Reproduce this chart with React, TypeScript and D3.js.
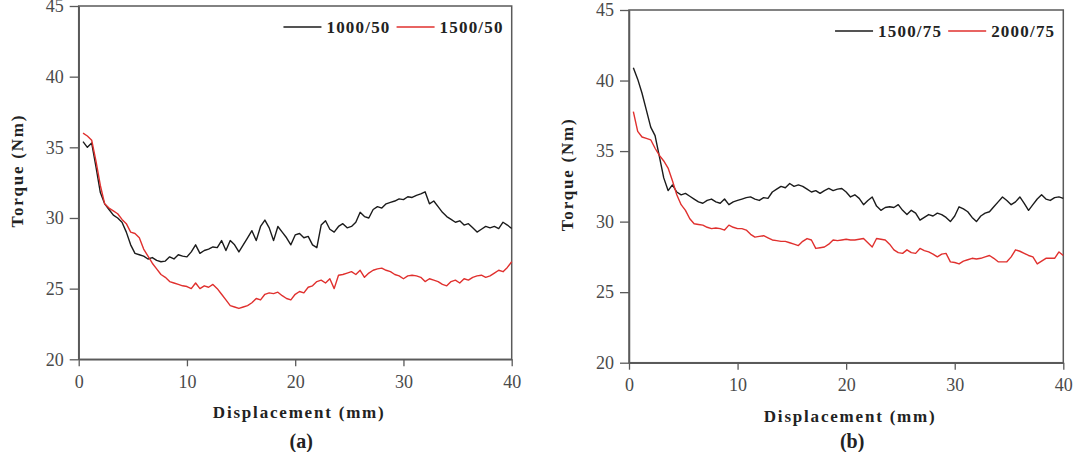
import React, { useEffect, useRef } from "react";
import * as d3 from "d3";

// sampling positions along the stroke (mm)
const displacement = [
  0.4, 0.8, 1.2, 1.6, 2.0, 2.4, 2.8, 3.2, 3.6, 4.0, 4.4, 4.8, 5.2, 5.6, 6.0, 6.4, 6.8, 7.2, 7.6, 8.0,
  8.4, 8.8, 9.2, 9.6, 10.0, 10.4, 10.8, 11.2, 11.6, 12.0, 12.4, 12.8, 13.2, 13.6, 14.0, 14.4, 14.8, 15.2, 15.6, 16.0,
  16.4, 16.8, 17.2, 17.6, 18.0, 18.4, 18.8, 19.2, 19.6, 20.0, 20.4, 20.8, 21.2, 21.6, 22.0, 22.4, 22.8, 23.2, 23.6, 24.0,
  24.4, 24.8, 25.2, 25.6, 26.0, 26.4, 26.8, 27.2, 27.6, 28.0, 28.4, 28.8, 29.2, 29.6, 30.0, 30.4, 30.8, 31.2, 31.6, 32.0,
  32.4, 32.8, 33.2, 33.6, 34.0, 34.4, 34.8, 35.2, 35.6, 36.0, 36.4, 36.8, 37.2, 37.6, 38.0, 38.4, 38.8, 39.2, 39.6, 40.0,
];

// torque (Nm), panel (a)
const torque1000_50 = [
  35.4, 35.0, 35.3, 33.6, 31.8, 31.0, 30.6, 30.2, 30.0, 29.7, 29.0, 28.1, 27.5, 27.4, 27.3, 27.1, 27.2, 27.0, 26.9, 26.95,
  27.25, 27.1, 27.4, 27.3, 27.25, 27.6, 28.1, 27.5, 27.7, 27.8, 27.95, 27.9, 28.4, 27.7, 28.4, 28.1, 27.6, 28.1, 28.6, 29.1,
  28.4, 29.4, 29.85, 29.3, 28.4, 29.4, 29.0, 28.6, 28.1, 28.8, 28.9, 28.6, 28.7, 28.1, 27.9, 29.5, 29.8, 29.2, 29.0, 29.4,
  29.6, 29.3, 29.4, 29.7, 30.4, 30.1, 30.0, 30.6, 30.8, 30.7, 31.0, 31.1, 31.2, 31.35, 31.3, 31.5, 31.45, 31.6, 31.7, 31.85,
  31.0, 31.2, 30.8, 30.4, 30.1, 29.9, 29.7, 29.8, 29.5, 29.6, 29.3, 29.0, 29.2, 29.4, 29.3, 29.4, 29.25, 29.7, 29.5, 29.25,
];
const torque1500_50 = [
  36.0, 35.8, 35.5, 34.0, 32.3, 31.0, 30.7, 30.5, 30.3, 29.9, 29.6, 29.0, 28.9, 28.6, 27.8, 27.3, 26.8, 26.4, 26.0, 25.8,
  25.5, 25.4, 25.3, 25.2, 25.15, 25.0, 25.4, 25.0, 25.2, 25.1, 25.3, 25.0, 24.6, 24.2, 23.8, 23.7, 23.6, 23.7, 23.8, 24.0,
  24.3, 24.2, 24.6, 24.7, 24.65, 24.75, 24.5, 24.3, 24.2, 24.6, 24.8, 24.7, 25.1, 25.2, 25.5, 25.6, 25.4, 25.7, 25.0, 25.95,
  26.0, 26.1, 26.2, 26.0, 26.3, 25.8, 26.1, 26.3, 26.4, 26.45, 26.3, 26.2, 26.0, 25.9, 25.7, 25.9, 25.95, 25.9, 25.8, 25.5,
  25.7, 25.6, 25.5, 25.3, 25.2, 25.5, 25.6, 25.4, 25.7, 25.6, 25.8, 25.9, 25.95, 25.8, 25.9, 26.1, 26.3, 26.2, 26.5, 26.9,
];

// torque (Nm), panel (b)
const torque1500_75 = [
  40.9, 40.1, 39.1, 37.9, 36.7, 36.1, 34.6, 33.1, 32.2, 32.6, 32.1, 31.9, 32.0, 31.8, 31.6, 31.4, 31.3, 31.5, 31.6, 31.4,
  31.3, 31.6, 31.2, 31.4, 31.5, 31.6, 31.7, 31.75, 31.6, 31.5, 31.7, 31.65, 32.1, 32.3, 32.5, 32.4, 32.7, 32.5, 32.6, 32.5,
  32.3, 32.1, 32.2, 32.0, 32.2, 32.35, 32.2, 32.3, 32.35, 32.1, 31.75, 31.9, 31.65, 31.2, 31.5, 31.75, 31.1, 30.8, 31.0, 31.05,
  31.0, 31.2, 30.8, 30.5, 30.8, 30.6, 30.1, 30.3, 30.5, 30.4, 30.6, 30.5, 30.3, 30.0, 30.4, 31.05, 30.9, 30.7, 30.3, 30.0,
  30.4, 30.6, 30.7, 31.05, 31.4, 31.75, 31.5, 31.2, 31.4, 31.75, 31.3, 30.8, 31.2, 31.6, 31.9, 31.6, 31.5, 31.7, 31.75, 31.65,
];
const torque2000_75 = [
  37.8, 36.4, 36.0, 35.9, 35.8, 35.2, 34.7, 34.3, 33.8, 32.9, 31.9, 31.2, 30.8, 30.2, 29.85, 29.8, 29.75, 29.6, 29.5, 29.55,
  29.5, 29.4, 29.75, 29.6, 29.5, 29.5, 29.4, 29.1, 28.9, 28.95, 29.0, 28.85, 28.7, 28.65, 28.6, 28.6, 28.5, 28.4, 28.3, 28.6,
  28.8, 28.7, 28.1, 28.15, 28.2, 28.4, 28.7, 28.65, 28.7, 28.75, 28.7, 28.7, 28.75, 28.8, 28.5, 28.2, 28.8, 28.75, 28.7, 28.4,
  28.0, 27.8, 27.75, 28.0, 27.8, 27.75, 28.1, 27.95, 27.85, 27.7, 27.5, 27.7, 27.75, 27.15, 27.1, 27.0, 27.2, 27.3, 27.4, 27.35,
  27.4, 27.5, 27.6, 27.4, 27.15, 27.15, 27.15, 27.5, 28.0, 27.9, 27.75, 27.6, 27.5, 27.0, 27.2, 27.4, 27.4, 27.4, 27.85, 27.6,
];

const xTicks = [0, 10, 20, 30, 40];
const yTicks = [20, 25, 30, 35, 40, 45];
const labelsA = ["1000/50", "1500/50"];
const labelsB = ["1500/75", "2000/75"];

const BLACK = "#1b1b1b";
const RED = "#e0302e";
const AXIS = "#5a5a5a";
const SERIF = "Liberation Serif";

type Panel = {
  left: number;
  right: number;
  top: number;
  bottom: number;
  series: number[][];
  labels: string[];
  caption: string;
};

const panels: Panel[] = [
  { left: 78.7, right: 511.7, top: 6, bottom: 359.3, series: [torque1000_50, torque1500_50], labels: labelsA, caption: "(a)" },
  { left: 629, right: 1063.3, top: 10, bottom: 362.7, series: [torque1500_75, torque2000_75], labels: labelsB, caption: "(b)" },
];

const drawPanel = (svg: d3.Selection<SVGSVGElement, unknown, null, undefined>, p: Panel) => {
  const x = d3.scaleLinear().domain([0, 40]).range([p.left, p.right]);
  const y = d3.scaleLinear().domain([20, 45]).range([p.bottom, p.top]);
  const g = svg.append("g");

  // frame around the plot area
  g.append("rect")
    .attr("x", p.left)
    .attr("y", p.top)
    .attr("width", p.right - p.left)
    .attr("height", p.bottom - p.top)
    .attr("fill", "none")
    .attr("stroke", AXIS)
    .attr("stroke-width", 1.5);

  // bottom axis
  const xAxis = g
    .append("g")
    .attr("transform", `translate(0,${p.bottom})`)
    .call(d3.axisBottom(x).tickValues(xTicks).tickSize(7).tickPadding(9).tickSizeOuter(0));
  xAxis.attr("font-family", null).attr("font-size", null);
  xAxis.select(".domain").attr("stroke", AXIS).attr("stroke-width", 1.5);
  xAxis.selectAll(".tick line").attr("stroke", AXIS).attr("stroke-width", 1.3);
  xAxis
    .selectAll(".tick text")
    .style("font-family", SERIF)
    .style("font-size", "18px")
    .attr("fill", "#4a4a4a");

  // left axis
  const yAxis = g
    .append("g")
    .attr("transform", `translate(${p.left},0)`)
    .call(d3.axisLeft(y).tickValues(yTicks).tickSize(9).tickPadding(6).tickSizeOuter(0));
  yAxis.attr("font-family", null).attr("font-size", null);
  yAxis.select(".domain").attr("stroke", AXIS).attr("stroke-width", 1.5);
  yAxis.selectAll(".tick line").attr("stroke", AXIS).attr("stroke-width", 1.3);
  yAxis
    .selectAll(".tick text")
    .style("font-family", SERIF)
    .style("font-size", "18px")
    .attr("fill", "#4a4a4a");

  // torque curves
  const line = d3
    .line<number>()
    .x((_, i) => x(displacement[i]))
    .y((d) => y(d));
  p.series.forEach((s, i) => {
    g.append("path")
      .datum(s)
      .attr("d", line)
      .attr("fill", "none")
      .attr("stroke", i === 0 ? BLACK : RED)
      .attr("stroke-width", 1.4)
      .attr("stroke-linejoin", "round");
  });

  // legend, laid out from the right edge
  const legendY = p.top + 21;
  let cursor = p.right - 8;
  [1, 0].forEach((i) => {
    const t = g
      .append("text")
      .style("font-family", SERIF)
      .style("font-weight", "bold")
      .style("font-size", "17px")
      .attr("letter-spacing", 1.2)
      .attr("fill", "#222")
      .attr("y", legendY + 6)
      .text(p.labels[i]);
    const w = (t.node() as SVGTextElement).getComputedTextLength();
    t.attr("x", cursor - w);
    cursor = cursor - w - 5;
    g.append("line")
      .attr("x1", cursor - 38)
      .attr("x2", cursor)
      .attr("y1", legendY)
      .attr("y2", legendY)
      .attr("stroke", i === 0 ? BLACK : RED)
      .attr("stroke-width", 1.6);
    cursor = cursor - 38 - 6;
  });

  const cx = (p.left + p.right) / 2;
  // axis titles
  g.append("text")
    .attr("x", cx + 4)
    .attr("y", p.bottom + 59)
    .attr("text-anchor", "middle")
    .style("font-family", SERIF)
    .style("font-weight", "bold")
    .style("font-size", "17px")
    .attr("letter-spacing", 1.8)
    .attr("fill", "#222")
    .text("Displacement (mm)");

  g.append("text")
    .attr("transform", `translate(${p.left - 56},${(p.top + p.bottom) / 2 - 12}) rotate(-90)`)
    .attr("text-anchor", "middle")
    .style("font-family", SERIF)
    .style("font-weight", "bold")
    .style("font-size", "17px")
    .attr("letter-spacing", 1.8)
    .attr("fill", "#222")
    .text("Torque (Nm)");

  g.append("text")
    .attr("x", cx + 6)
    .attr("y", 448)
    .attr("text-anchor", "middle")
    .style("font-family", SERIF)
    .style("font-weight", "bold")
    .style("font-size", "20px")
    .attr("fill", "#222")
    .text(p.caption);
};

const App = () => {
  const ref = useRef<SVGSVGElement>(null);

  useEffect(() => {
    if (!ref.current) return;
    const svg = d3.select(ref.current);
    svg.selectAll("*").remove();
    panels.forEach((p) => drawPanel(svg, p));
  }, []);

  return (
    <svg
      ref={ref}
      width={1087}
      height={452}
      style={{ position: "absolute", left: 0, top: 0, background: "#fff" }}
    />
  );
};

export default App;
